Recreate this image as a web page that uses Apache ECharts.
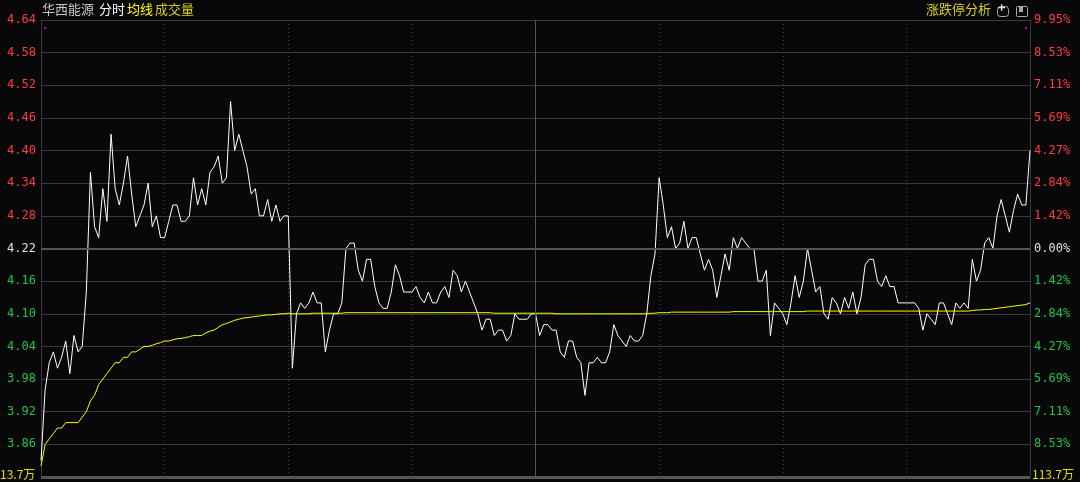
<!DOCTYPE html>
<html>
<head>
<meta charset="utf-8">
<script src="https://cdn.jsdelivr.net/npm/echarts@6/dist/echarts.min.js"></script>
<style>
html, body { margin: 0; padding: 0; background: #08080a; }
#chart { width: 1080px; height: 482px; }
</style>
</head>
<body>
<div id="chart"></div>
<script>
var preClose = 4.22;
var priceTicks = [3.80, 3.86, 3.92, 3.98, 4.04, 4.10, 4.16, 4.22, 4.28, 4.34, 4.40, 4.46, 4.52, 4.58, 4.64];
var volLabels = ['13.7万', '113.7万'];

var prices = [
    3.83, 3.96, 4.01, 4.03, 4.00, 4.02, 4.05, 3.99, 4.06, 4.03,
    4.04, 4.14, 4.36, 4.26, 4.24, 4.33, 4.27, 4.43, 4.33, 4.30,
    4.34, 4.39, 4.32, 4.26, 4.28, 4.30, 4.34, 4.26, 4.28, 4.24,
    4.24, 4.27, 4.30, 4.30, 4.27, 4.27, 4.28, 4.35, 4.30, 4.33,
    4.30, 4.36, 4.37, 4.39, 4.34, 4.35, 4.49, 4.40, 4.43, 4.40,
    4.37, 4.32, 4.33, 4.28, 4.28, 4.31, 4.27, 4.30, 4.27, 4.28,
    4.28, 4.00, 4.10, 4.12, 4.11, 4.12, 4.14, 4.12, 4.12, 4.03,
    4.07, 4.10, 4.10, 4.12, 4.22, 4.23, 4.23, 4.18, 4.16, 4.20,
    4.20, 4.15, 4.12, 4.11, 4.11, 4.14, 4.19, 4.17, 4.14, 4.14,
    4.14, 4.15, 4.13, 4.12, 4.14, 4.12, 4.12, 4.14, 4.15, 4.13,
    4.18, 4.17, 4.14, 4.16, 4.14, 4.12, 4.10, 4.07, 4.09, 4.09,
    4.06, 4.07, 4.07, 4.05, 4.06, 4.10, 4.09, 4.09, 4.09, 4.10,
    4.10, 4.06, 4.08, 4.08, 4.07, 4.07, 4.03, 4.02, 4.05, 4.05,
    4.02, 4.01, 3.95, 4.01, 4.01, 4.02, 4.01, 4.01, 4.03, 4.08,
    4.06, 4.05, 4.04, 4.06, 4.05, 4.05, 4.06, 4.10, 4.17, 4.21,
    4.35, 4.30, 4.24, 4.26, 4.22, 4.23, 4.27, 4.22, 4.24, 4.24,
    4.21, 4.18, 4.20, 4.18, 4.13, 4.17, 4.21, 4.18, 4.24, 4.22,
    4.24, 4.23, 4.22, 4.22, 4.16, 4.16, 4.18, 4.06, 4.12, 4.11,
    4.10, 4.08, 4.12, 4.17, 4.13, 4.16, 4.22, 4.18, 4.14, 4.15,
    4.10, 4.09, 4.13, 4.12, 4.10, 4.13, 4.11, 4.14, 4.10, 4.13,
    4.19, 4.20, 4.20, 4.16, 4.15, 4.17, 4.15, 4.15, 4.12, 4.12,
    4.12, 4.12, 4.12, 4.11, 4.07, 4.10, 4.09, 4.08, 4.12, 4.12,
    4.10, 4.08, 4.12, 4.11, 4.12, 4.11, 4.20, 4.16, 4.18, 4.23,
    4.24, 4.22, 4.28, 4.31, 4.28, 4.25, 4.29, 4.32, 4.30, 4.30,
    4.40
];

var avgPrices = [
    3.82, 3.86, 3.87, 3.88, 3.89, 3.89, 3.90, 3.90, 3.90, 3.90,
    3.91, 3.92, 3.94, 3.95, 3.97, 3.98, 3.99, 4.00, 4.01, 4.01,
    4.02, 4.02, 4.03, 4.03, 4.035, 4.04, 4.04, 4.042, 4.045, 4.047,
    4.05, 4.05, 4.052, 4.054, 4.055, 4.056, 4.058, 4.06, 4.06, 4.06,
    4.065, 4.068, 4.07, 4.075, 4.08, 4.082, 4.085, 4.088, 4.09, 4.092,
    4.093, 4.094, 4.095, 4.096, 4.097, 4.098, 4.098, 4.099, 4.100, 4.100,
    4.101, 4.100, 4.100, 4.100, 4.100, 4.100, 4.101, 4.101, 4.101, 4.101,
    4.101, 4.101, 4.101, 4.101, 4.102, 4.102, 4.102, 4.102, 4.102, 4.102,
    4.102, 4.102, 4.102, 4.102, 4.102, 4.102, 4.102, 4.102, 4.102, 4.102,
    4.102, 4.102, 4.102, 4.102, 4.102, 4.102, 4.102, 4.102, 4.102, 4.102,
    4.102, 4.102, 4.102, 4.102, 4.102, 4.102, 4.102, 4.102, 4.102, 4.102,
    4.101, 4.101, 4.101, 4.101, 4.101, 4.101, 4.101, 4.101, 4.101, 4.101,
    4.101, 4.101, 4.101, 4.101, 4.101, 4.100, 4.100, 4.100, 4.100, 4.100,
    4.100, 4.100, 4.100, 4.100, 4.100, 4.100, 4.100, 4.100, 4.100, 4.100,
    4.100, 4.100, 4.100, 4.100, 4.100, 4.100, 4.100, 4.100, 4.101, 4.101,
    4.102, 4.102, 4.102, 4.103, 4.103, 4.103, 4.103, 4.103, 4.103, 4.103,
    4.103, 4.103, 4.103, 4.103, 4.103, 4.103, 4.103, 4.103, 4.104, 4.104,
    4.104, 4.104, 4.104, 4.104, 4.104, 4.104, 4.104, 4.104, 4.104, 4.104,
    4.104, 4.104, 4.104, 4.104, 4.104, 4.104, 4.105, 4.105, 4.105, 4.105,
    4.105, 4.105, 4.105, 4.105, 4.105, 4.105, 4.105, 4.105, 4.105, 4.105,
    4.105, 4.105, 4.105, 4.105, 4.105, 4.105, 4.105, 4.105, 4.105, 4.105,
    4.105, 4.105, 4.105, 4.105, 4.105, 4.105, 4.105, 4.105, 4.105, 4.105,
    4.105, 4.105, 4.105, 4.105, 4.105, 4.105, 4.106, 4.107, 4.107, 4.108,
    4.108, 4.109, 4.110, 4.111, 4.112, 4.113, 4.114, 4.115, 4.116, 4.117,
    4.120
];

var limitMarks = [[1, 4.625], [239, 4.625]];

var minutes = [];
for (var i = 0; i < prices.length; i++) minutes.push(i);

var red = '#ff3b3b';
var green = '#1fc24a';
var gridColor = '#3a3a3a';

function priceColor(v) {
    if (Math.abs(v - preClose) < 0.001) return '#e0e0e0';
    return v > preClose ? red : green;
}

var chart = echarts.init(document.getElementById('chart'));
chart.setOption({
    backgroundColor: '#08080a',
    animation: false,
    grid: { left: 41, right: 50, top: 20, bottom: 5 },
    xAxis: {
        type: 'category',
        data: minutes,
        boundaryGap: false,
        axisLine: { show: false },
        axisTick: { show: false },
        axisLabel: { show: false },
        splitLine: {
            show: true,
            interval: function (idx) { return idx % 30 === 0 && idx !== 0 && idx !== 120 && idx !== 240; },
            lineStyle: { color: '#444', type: [1, 3] }
        }
    },
    yAxis: [
        {
            type: 'value', min: 3.80, max: 4.64, interval: 0.06,
            axisLine: { show: true, lineStyle: { color: gridColor } },
            axisTick: { show: false },
            splitLine: { lineStyle: { color: gridColor } },
            axisLabel: {
                margin: 5, fontSize: 12, fontFamily: 'DejaVu Sans Mono',
                formatter: function (v) { return v < 3.81 ? '' : v.toFixed(2); },
                color: function (v) { return priceColor(+v); }
            }
        },
        {
            type: 'value', min: 3.80, max: 4.64, interval: 0.06, position: 'right',
            axisLine: { show: true, lineStyle: { color: gridColor } },
            axisTick: { show: false },
            splitLine: { show: false },
            axisLabel: {
                margin: 4, fontSize: 12, fontFamily: 'DejaVu Sans Mono',
                formatter: function (v) {
                    if (v < 3.81) return '';
                    return (Math.abs(v - preClose) / preClose * 100).toFixed(2) + '%';
                },
                color: function (v) { return priceColor(+v); }
            }
        }
    ],
    series: [
        {
            type: 'line', data: prices, symbol: 'none',
            lineStyle: { color: '#ffffff', width: 1 },
            markLine: {
                silent: true, symbol: 'none', label: { show: false },
                data: [
                    { xAxis: 120, lineStyle: { color: '#555', type: 'solid', width: 1 } },
                    { yAxis: preClose, lineStyle: { color: '#555', type: 'solid', width: 2 } },
                    { yAxis: 3.80, lineStyle: { color: '#555', type: 'solid', width: 3 } }
                ]
            }
        },
        {
            type: 'line', data: avgPrices, symbol: 'none',
            lineStyle: { color: '#ffff00', width: 1 }
        },
        {
            type: 'scatter', data: limitMarks, symbol: 'rect', symbolSize: 2,
            itemStyle: { color: '#ff00ff' }
        }
    ],
    graphic: [
        { type: 'text', left: 42, top: 3, style: { text: '华西能源', fill: '#c8c8c8', font: '13px "Noto Sans CJK SC"' } },
        { type: 'text', left: 99, top: 3, style: { text: '分时', fill: '#ffffff', font: '13px "Noto Sans CJK SC"' } },
        { type: 'text', left: 127, top: 3, style: { text: '均线', fill: '#ffff00', font: '13px "Noto Sans CJK SC"' } },
        { type: 'text', left: 155, top: 3, style: { text: '成交量', fill: '#d8d020', font: '13px "Noto Sans CJK SC"' } },
        { type: 'text', left: 926, top: 3, style: { text: '涨跌停分析', fill: '#d8d020', font: '13px "Noto Sans CJK SC"' } },
        { type: 'rect', left: 995, top: 4, shape: { width: 11, height: 10, r: 3 }, style: { fill: 'none', stroke: '#aaa', lineWidth: 1 } },
        { type: 'text', left: 997, top: 3, style: { text: '+', fill: '#ddd', font: 'bold 11px "DejaVu Sans"' } },
        { type: 'rect', left: 1014, top: 4, shape: { width: 11, height: 10, r: 1 }, style: { fill: 'none', stroke: '#aaa', lineWidth: 1 } },
        { type: 'rect', left: 1019, top: 6, shape: { width: 4, height: 6 }, style: { fill: '#aaa' } },
        { type: 'text', left: 0, top: 468, style: { text: volLabels[0], fill: '#e0e000', font: '12px "Noto Sans CJK SC"' } },
        { type: 'text', left: 1032, top: 468, style: { text: volLabels[1], fill: '#e0e000', font: '12px "Noto Sans CJK SC"' } }
    ]
});
</script>
</body>
</html>
